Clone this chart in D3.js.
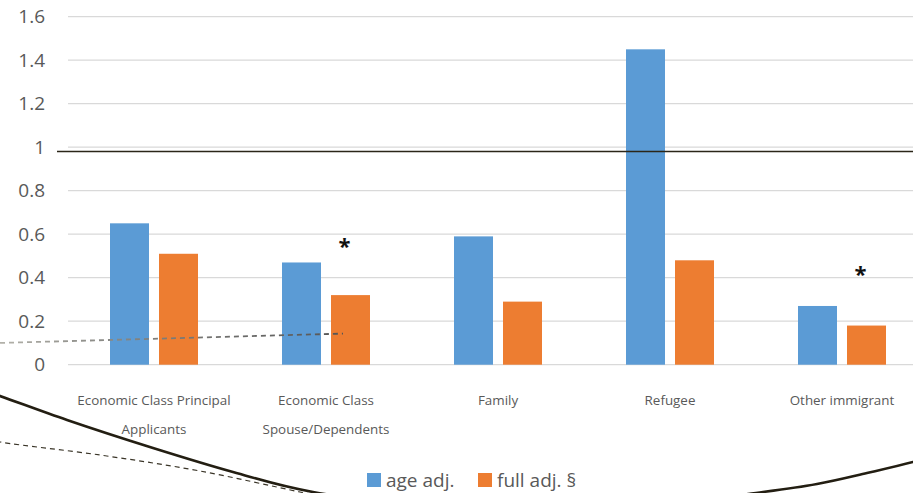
<!DOCTYPE html>
<html><head><meta charset="utf-8">
<script src="https://cdn.jsdelivr.net/npm/d3@7"></script>
<style>
html,body{margin:0;padding:0;background:#fff;}
svg{display:block;}
text{font-family:"Open Sans",sans-serif;}
</style></head>
<body>
<svg id="c" width="913" height="493"></svg>
<script>
const categories = [["Economic Class Principal","Applicants"],["Economic Class","Spouse/Dependents"],["Family"],["Refugee"],["Other immigrant"]];
const seriesNames = ["age adj.", "full adj. §"];
const ageAdj = [0.65, 0.47, 0.59, 1.45, 0.27];
const fullAdj = [0.51, 0.32, 0.29, 0.48, 0.18];
const yTicks = [0, 0.2, 0.4, 0.6, 0.8, 1, 1.2, 1.4, 1.6];
const tickLabels = ["0","0.2","0.4","0.6","0.8","1","1.2","1.4","1.6"];
const colors = ["#5b9bd5", "#ed7d31"];
const starredCategories = [1, 4];
const starLevels = [0.55, 0.42];
const refLineValue = 0.98;
const dashedTrend = [[0, 0.10], [343, 0.143]];
// decorative hand-drawn curves (pixel space)
const solidCurve = [[-40,382],[0,396],[67,420],[153,448],[233,472],[313,492],[545,516],[763,492],[817,484],[867,473],[913,462],[960,448]];
const dashedCurve = [[-30,436],[0,442],[100,455],[200,471],[300,492],[340,500]];

const svg = d3.select("#c");
const x = d3.scaleBand().domain(d3.range(categories.length)).range([68, 928]).paddingInner(0).paddingOuter(0);
const xs = d3.scaleBand().domain([0,1]).range([42, 130]).paddingInner(10/49).paddingOuter(0);
const y = d3.scaleLinear().domain([0, 1.6]).range([364.7, 16.7]);

// gridlines
svg.append("g").selectAll("line").data(yTicks).join("line")
  .attr("x1", 68).attr("x2", 913)
  .attr("y1", d => y(d)).attr("y2", d => y(d))
  .attr("stroke", "#d9d9d9").attr("stroke-width", 1.3);

// y tick labels
svg.append("g").selectAll("text").data(yTicks).join("text")
  .attr("x", 45).attr("y", d => y(d)).attr("dy", "0.35em")
  .attr("text-anchor", "end").attr("font-size", 19).attr("fill", "#595959")
  .text((d,i) => tickLabels[i]);

// bars
const series = [ageAdj, fullAdj];
series.forEach((vals, s) => {
  svg.append("g").selectAll("rect").data(vals).join("rect")
    .attr("x", (d,i) => x(i) + xs(s))
    .attr("width", xs.bandwidth())
    .attr("y", d => y(d))
    .attr("height", d => y(0) - y(d))
    .attr("fill", colors[s]);
});

// reference line at ~1
svg.append("line").attr("x1", 57).attr("x2", 913)
  .attr("y1", y(refLineValue)).attr("y2", y(refLineValue))
  .attr("stroke", "#2b2618").attr("stroke-width", 1.4);

// dashed trend line
const lx = d3.scaleLinear().domain([0, 913]).range([0, 913]);
const grad = svg.append("defs").append("linearGradient").attr("id","dg")
  .attr("gradientUnits","userSpaceOnUse").attr("x1",0).attr("x2",343).attr("y1",0).attr("y2",0);
grad.append("stop").attr("offset","0").attr("stop-color","#b3b2aa");
grad.append("stop").attr("offset","0.3").attr("stop-color","#8a8a86");
grad.append("stop").attr("offset","1").attr("stop-color","#555555");
svg.append("path")
  .attr("d", d3.line().x(d => lx(d[0])).y(d => y(d[1]))(dashedTrend))
  .attr("fill","none").attr("stroke","url(#dg)").attr("stroke-width",1.8)
  .attr("stroke-dasharray","5,4");

// asterisks
svg.append("g").selectAll("text").data(starredCategories).join("text")
  .attr("x", i => x(i) + xs(1) + xs.bandwidth()/2 - 6)
  .attr("y", (i,k) => y(starLevels[k]) + 9)
  .attr("text-anchor","middle").attr("font-size", 22).attr("font-weight","bold").attr("fill","#111")
  .attr("font-family","DejaVu Sans")
  .text("*");

// x labels
const xl = svg.append("g");
categories.forEach((lines, i) => {
  lines.forEach((t, k) => {
    xl.append("text").attr("x", x(i) + x.bandwidth()/2).attr("y", 400 + k*29).attr("dy","0.35em")
      .attr("text-anchor","middle").attr("font-size", 13.4).attr("fill","#595959").text(t);
  });
});

// decorative curves
svg.append("path").attr("d", d3.line().curve(d3.curveCatmullRom)(solidCurve))
  .attr("fill","none").attr("stroke","#231e12").attr("stroke-width",2.6);
svg.append("path").attr("d", d3.line().curve(d3.curveCatmullRom)(dashedCurve))
  .attr("fill","none").attr("stroke","#3a3528").attr("stroke-width",1.2).attr("stroke-dasharray","5,4");

// legend
const legX = [367, 478];
const lg = svg.append("g");
seriesNames.forEach((n, s) => {
  lg.append("rect").attr("x", legX[s]).attr("y", 473).attr("width", 14).attr("height", 14).attr("fill", colors[s]);
  lg.append("text").attr("x", legX[s] + 19).attr("y", 480).attr("dy","0.35em")
    .attr("font-size", 19).attr("fill","#595959").text(n);
});
</script>
</body></html>
